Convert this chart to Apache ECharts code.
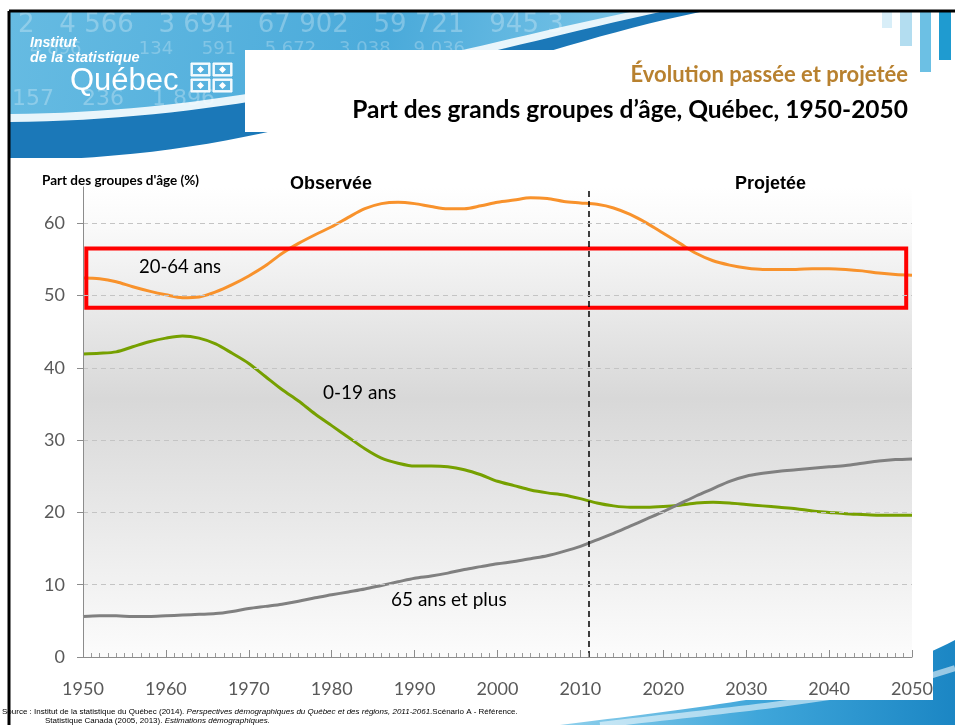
<!DOCTYPE html>
<html>
<head>
<meta charset="utf-8">
<script src="https://cdn.jsdelivr.net/npm/echarts@6/dist/echarts.min.js"></script>
<style>
html,body{margin:0;padding:0;background:#fff;}
#chart{width:955px;height:725px;}
</style>
</head>
<body>
<div id="chart"></div>
<script>
// ---- data ----
const years = [1950,1952,1954,1956,1958,1960,1962,1964,1966,1968,1970,1972,1974,1976,1978,1980,1982,1984,1986,1988,1990,1992,1994,1996,1998,2000,2002,2004,2006,2008,2010,2012,2014,2016,2018,2020,2022,2024,2026,2028,2030,2032,2034,2036,2038,2040,2042,2044,2046,2048,2050];
const share20to64 = [52.4,52.3,51.9,51.2,50.6,50.1,49.7,49.8,50.5,51.5,52.7,54.1,55.8,57.2,58.4,59.5,60.8,62.0,62.7,62.9,62.7,62.3,62.0,62.0,62.4,62.9,63.2,63.5,63.4,63.0,62.8,62.6,62.1,61.2,60.0,58.6,57.2,55.8,54.8,54.2,53.8,53.6,53.6,53.6,53.7,53.7,53.6,53.4,53.1,52.9,52.8];
const share0to19 = [41.9,42.0,42.2,42.9,43.6,44.1,44.4,44.1,43.3,42.0,40.6,38.8,37.0,35.4,33.6,32.0,30.4,28.8,27.5,26.8,26.4,26.4,26.3,25.9,25.2,24.3,23.7,23.1,22.7,22.4,21.9,21.3,20.9,20.7,20.7,20.8,21.0,21.3,21.4,21.3,21.1,20.9,20.7,20.5,20.2,20.0,19.8,19.7,19.6,19.6,19.6];
const share65plus = [5.6,5.7,5.7,5.6,5.6,5.7,5.8,5.9,6.0,6.3,6.7,7.0,7.3,7.7,8.2,8.6,9.0,9.4,9.9,10.4,10.9,11.2,11.6,12.1,12.5,12.9,13.2,13.6,14.0,14.6,15.3,16.2,17.1,18.1,19.1,20.1,21.2,22.3,23.3,24.3,25.0,25.4,25.7,25.9,26.1,26.3,26.5,26.8,27.1,27.3,27.4];
const seriesNames = ['20-64 ans','0-19 ans','65 ans et plus'];
const projectionStartYear = 2011;
const highlightBox = [[1950.4, 56.5], [2049.3, 48.3]];
const periodLabels = ['Observée','Projetée'];

const pairs = arr => years.map((y,i)=>[y,arr[i]]);

const chart = echarts.init(document.getElementById('chart'), null, {renderer:'canvas'});
const G = echarts.graphic;

// decorative slide shapes: sample a cubic bezier into polygon points
function bez(p0,p1,p2,p3,n){
  const pts=[];
  for(let i=0;i<=n;i++){const t=i/n,u=1-t;
    pts.push([u*u*u*p0[0]+3*u*u*t*p1[0]+3*u*t*t*p2[0]+t*t*t*p3[0], u*u*u*p0[1]+3*u*u*t*p1[1]+3*u*t*t*p2[1]+t*t*t*p3[1]]);}
  return pts;
}
function shape(curve, extra){ return curve.concat(extra); }

function flagSquare(x,y){
  return [
    {type:'rect', z:2, shape:{x:x,y:y,width:19,height:13}, style:{fill:'#eaf6fc', stroke:'#ffffff', lineWidth:1}},
    {type:'rect', z:3, shape:{x:x+2,y:y+2,width:15,height:9}, style:{fill:'#58b2df'}},
    {type:'polygon', z:3, shape:{points:[[x+9.5,y+3],[x+13,y+6.5],[x+9.5,y+10],[x+6,y+6.5]]}, style:{fill:'#ffffff'}}
  ];
}

const graphics = [
  {type:'polygon', z:0, shape:{points:shape(bez([10,160],[300,160],[470,60],[700,12],40),[[10,12]])}, style:{fill:'#1b78b8'}},
  {type:'polygon', z:0, shape:{points:shape(bez([10,122],[260,120],[450,58],[660,12],40),[[10,12]])}, style:{fill:'#e8f5fb'}},
  {type:'polygon', z:0, shape:{points:shape(bez([10,114],[250,112],[430,54],[630,12],40),[[10,12]])},
    style:{fill:new G.LinearGradient(0,0,1,1,[{offset:0,color:'#66bbe2'},{offset:0.6,color:'#4aaada'},{offset:1,color:'#7cc6e8'}])}},
  {type:'text', z:1, left:18, top:12, style:{text:'2   4 566   3 694   67 902   59 721   945 3', fill:'rgba(255,255,255,0.28)', font:'26px "DejaVu Sans"'}},
  {type:'text', z:1, left:30, top:40, style:{text:'4 896          134     591     5 672    3 038    9 036', fill:'rgba(255,255,255,0.25)', font:'18px "DejaVu Sans"'}},
  {type:'text', z:1, left:12, top:88, style:{text:'157    236    1 896', fill:'rgba(255,255,255,0.28)', font:'22px "DejaVu Sans"'}},
  {type:'text', z:2, left:30, top:36, style:{text:'Institut', fill:'#fff', font:'italic bold 14px "Liberation Sans"'}},
  {type:'text', z:2, left:30, top:50, style:{text:'de la statistique', fill:'#fff', font:'italic bold 14.5px "Liberation Sans"'}},
  {type:'text', z:2, left:70, top:66, style:{text:'Québec', fill:'#fff', font:'31px "Liberation Sans"'}}
].concat(flagSquare(191,63), flagSquare(213,63), flagSquare(191,79), flagSquare(213,79)).concat([
  {type:'rect', z:1, shape:{x:882,y:12,width:10,height:16}, style:{fill:'#d8eef8'}},
  {type:'rect', z:1, shape:{x:900,y:12,width:12,height:34}, style:{fill:'#b3ddf0'}},
  {type:'rect', z:1, shape:{x:920,y:12,width:11,height:60}, style:{fill:'#6cc0e4'}},
  {type:'rect', z:1, shape:{x:939,y:12,width:12,height:48}, style:{fill:'#1f9bd0'}},
  {type:'rect', z:4, shape:{x:245,y:50,width:670,height:82}, style:{fill:'#fff'}},
  {type:'polygon', z:0, shape:{points:shape(bez([560,725],[720,705],[860,690],[955,640],40),[[955,725]])},
    style:{fill:new G.LinearGradient(0,0,1,0,[{offset:0,color:'#8fd0ec'},{offset:0.5,color:'#3fa6da'},{offset:1,color:'#1b86c4'}])}},
  {type:'polyline', z:0, shape:{points:bez([600,725],[740,708],[860,700],[955,668],40)}, style:{stroke:'rgba(255,255,255,0.55)', lineWidth:6, fill:null}},
  {type:'rect', z:0, shape:{x:10,y:158,width:923,height:542}, style:{fill:'#fff'}},
  {type:'line', z:5, shape:{x1:9,y1:11,x2:955,y2:11}, style:{stroke:'#000', lineWidth:3}},
  {type:'line', z:5, shape:{x1:9,y1:11,x2:9,y2:725}, style:{stroke:'#000', lineWidth:3}},
  {type:'text', z:6, right:47, top:64, style:{text:'Évolution passée et projetée', fill:'#b8812f', font:'bold 22px Lato', textAlign:'right'}},
  {type:'text', z:6, right:47, top:98, style:{text:'Part des grands groupes d’âge, Québec, 1950-2050', fill:'#000', font:'bold 24.5px Lato', textAlign:'right'}},
  {type:'text', z:6, left:42, top:174, style:{text:"Part des groupes d'âge (%)", fill:'#000', font:'bold 13.5px Lato'}},
  {type:'text', z:6, left:290, top:175, style:{text:periodLabels[0], fill:'#000', font:'bold 18px "Liberation Sans"'}},
  {type:'text', z:6, left:735, top:175, style:{text:periodLabels[1], fill:'#000', font:'bold 18px "Liberation Sans"'}},
  {type:'text', z:6, left:139, top:258, style:{text:seriesNames[0], fill:'#000', font:'18.5px Lato'}},
  {type:'text', z:6, left:323, top:383, style:{text:seriesNames[1], fill:'#000', font:'19px Lato'}},
  {type:'text', z:6, left:391, top:590, style:{text:seriesNames[2], fill:'#000', font:'19px Lato'}},
  {type:'text', z:6, left:2, top:708, style:{rich:{n:{font:'8px "Liberation Sans"',fill:'#000'},i:{font:'italic 8px "Liberation Sans"',fill:'#000'}},
    text:'{n|Source : Institut de la statistique du Québec (2014). }{i|Perspectives démographiques du Québec et des régions, 2011-2061}{n|.Scénario A - Référence.}'}},
  {type:'text', z:6, left:45, top:717, style:{rich:{n:{font:'8px "Liberation Sans"',fill:'#000'},i:{font:'italic 8px "Liberation Sans"',fill:'#000'}},
    text:'{n|Statistique Canada (2005, 2013). }{i|Estimations démographiques.}'}}
]);

const option = {
  animation:false,
  backgroundColor:'transparent',
  graphic:graphics,
  grid:{left:83, right:43, top:187, bottom:68, show:true, borderWidth:0, z:1,
    backgroundColor:new G.LinearGradient(0,0,0,1,[{offset:0,color:'#ffffff'},{offset:0.08,color:'#fafafa'},{offset:0.45,color:'#d8d8d8'},{offset:1,color:'#fcfcfc'}])},
  xAxis:{type:'value', min:1950, max:2050, interval:10, z:5,
    axisLine:{show:true, lineStyle:{color:'#8c8c8c', width:1}},
    axisTick:{show:true, inside:true, length:7, lineStyle:{color:'#8c8c8c'}},
    minorTick:{show:true, splitNumber:10, length:4, lineStyle:{color:'#9a9a9a'}},
    splitLine:{show:false},
    axisLabel:{color:'#595959', fontFamily:'Lato', fontSize:18, margin:23, formatter:v=>String(v)}},
  yAxis:{type:'value', min:0, max:65, interval:10, z:5,
    axisLine:{show:true, lineStyle:{color:'#8c8c8c', width:1}},
    axisTick:{show:true, length:6, lineStyle:{color:'#8c8c8c'}},
    splitLine:{show:true, lineStyle:{type:[5,4], color:['#c4c4c4','#c4c4c4','#c4c4c4','#c4c4c4','#c4c4c4','#c4c4c4','#c4c4c4','rgba(0,0,0,0)']}},
    axisLabel:{color:'#595959', fontFamily:'Lato', fontSize:18, margin:18, showMaxLabel:false}},
  series:[
    {name:seriesNames[0], type:'line', data:pairs(share20to64), smooth:0.3, symbol:'none', z:3,
      lineStyle:{color:'#f8922c', width:3}, clip:false,
      markArea:{silent:true, z:4, itemStyle:{color:'rgba(0,0,0,0)', borderColor:'#ff0000', borderWidth:4},
        data:[[{coord:highlightBox[0]},{coord:highlightBox[1]}]]}},
    {name:seriesNames[1], type:'line', data:pairs(share0to19), smooth:0.3, symbol:'none', z:3,
      lineStyle:{color:'#76a000', width:3},
      markLine:{silent:true, symbol:'none', label:{show:false}, z:4,
        lineStyle:{color:'#000', type:[6,4], width:1.5}, data:[{xAxis:projectionStartYear}]}},
    {name:seriesNames[2], type:'line', data:pairs(share65plus), smooth:0.3, symbol:'none', z:3,
      lineStyle:{color:'#808080', width:3}}
  ]
};
chart.setOption(option);
</script>
</body>
</html>
